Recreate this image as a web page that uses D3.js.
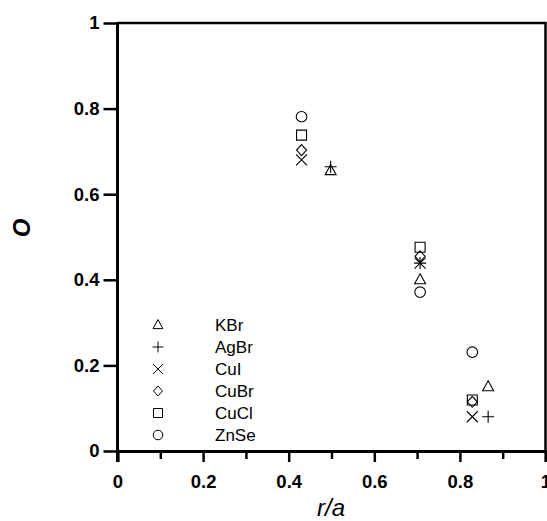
<!DOCTYPE html>
<html>
<head>
<meta charset="utf-8">
<script src="https://cdn.jsdelivr.net/npm/d3@7"></script>
<style>
  body { margin: 0; background: #fff; }
  svg { display: block; font-family: Arial, "Liberation Sans", sans-serif; }
</style>
</head>
<body>
<svg width="547" height="521"></svg>
<script>
const svg = d3.select("svg");

// data
const materials = ["KBr", "AgBr", "CuI", "CuBr", "CuCl", "ZnSe"];
const shapes = ["triangle", "plus", "x", "diamond", "square", "circle"];
const KBr = [[0.498, 0.655], [0.707, 0.400], [0.866, 0.150]];
const AgBr = [[0.498, 0.664], [0.707, 0.439], [0.866, 0.080]];
const CuI = [[0.430, 0.680], [0.707, 0.439], [0.829, 0.080]];
const CuBr = [[0.430, 0.703], [0.707, 0.455], [0.829, 0.115]];
const CuCl = [[0.430, 0.738], [0.707, 0.476], [0.829, 0.119]];
const ZnSe = [[0.430, 0.781], [0.707, 0.371], [0.829, 0.231]];
const series = [KBr, AgBr, CuI, CuBr, CuCl, ZnSe];

const xMajor = [0, 0.2, 0.4, 0.6, 0.8, 1];
const xMinor = [0.1, 0.3, 0.5, 0.7, 0.9];
const yTicks = [0, 0.2, 0.4, 0.6, 0.8, 1];

const margin = { top: 23, right: 1.5, bottom: 70, left: 117.5 };
const width = 547 - margin.left - margin.right;
const height = 521 - margin.top - margin.bottom;

const x = d3.scaleLinear().domain([0, 1]).range([0, width]);
const y = d3.scaleLinear().domain([0, 1]).range([height, 0]);

const g = svg.append("g").attr("transform", `translate(${margin.left},${margin.top})`);

// frame top + right
g.append("path")
  .attr("d", `M0,0H${width}V${height}`)
  .attr("fill", "none")
  .attr("stroke", "#000")
  .attr("stroke-width", 2.5);

const fmt = d3.format(".1~f");

// minor x ticks
g.append("g")
  .attr("transform", `translate(0,${height})`)
  .call(d3.axisBottom(x).tickValues(xMinor).tickSize(8).tickFormat(""))
  .call((a) => a.select(".domain").remove());

// major x ticks
const xAxis = g.append("g")
  .attr("transform", `translate(0,${height})`)
  .call(d3.axisBottom(x).tickValues(xMajor).tickSize(11).tickPadding(13).tickFormat(fmt));

const yAxis = g.append("g")
  .call(d3.axisLeft(y).tickValues(yTicks).tickSize(14).tickPadding(4).tickFormat(fmt));

g.selectAll(".tick line").attr("stroke-width", 2.5);
[xAxis, yAxis].forEach((a) => {
  a.select(".domain").attr("stroke-width", 3);
  a.selectAll("text")
    .attr("font-size", 18.5)
    .attr("font-weight", "bold")
    .attr("fill", "#000")
    .attr("font-family", "Arial, 'Liberation Sans', sans-serif");
});
// left axis continues below the bottom axis
yAxis.select(".domain").attr("d", `M0,-1V${height + 11}`);

// axis titles
svg.append("text")
  .attr("x", 331).attr("y", 516)
  .attr("text-anchor", "middle")
  .attr("font-size", 24)
  .attr("font-style", "italic")
  .text("r/a");

svg.append("text")
  .attr("transform", "translate(30,228) rotate(-90)")
  .attr("text-anchor", "middle")
  .attr("font-size", 24)
  .attr("font-style", "italic")
  .attr("font-weight", "bold")
  .text("O");

// marker paths
function marker(shape) {
  switch (shape) {
    case "triangle": return "M0,-6L5.5,4L-5.5,4Z";
    case "plus": return "M-6,0H6M0,-6V6";
    case "x": return "M-5.5,-5.5L5.5,5.5M-5.5,5.5L5.5,-5.5";
    case "diamond": return "M0,-5.5L5,0L0,5.5L-5,0Z";
    case "square": return "M-5,-5H5V5H-5Z";
    case "circle": return "M5.3,0A5.3,5.3 0 1,1 -5.3,0A5.3,5.3 0 1,1 5.3,0Z";
  }
}

series.forEach((data, i) => {
  g.selectAll(null)
    .data(data)
    .enter()
    .append("path")
    .attr("d", marker(shapes[i]))
    .attr("transform", (d) => `translate(${x(d[0])},${y(d[1])})`)
    .attr("fill", "none")
    .attr("stroke", "#000")
    .attr("stroke-width", 1.1);
});

// legend
const legend = svg.append("g").attr("transform", "translate(158,325)");
const rows = legend.selectAll("g")
  .data(materials)
  .enter()
  .append("g")
  .attr("transform", (d, i) => `translate(0,${i * 22})`);

rows.append("path")
  .attr("d", (d, i) => marker(shapes[i]))
  .attr("transform", "scale(0.9)")
  .attr("fill", "none")
  .attr("stroke", "#000")
  .attr("stroke-width", 1.1);

rows.append("text")
  .attr("x", 57)
  .attr("dy", "0.36em")
  .attr("font-size", 17)
  .text((d) => d);
</script>
</body>
</html>
